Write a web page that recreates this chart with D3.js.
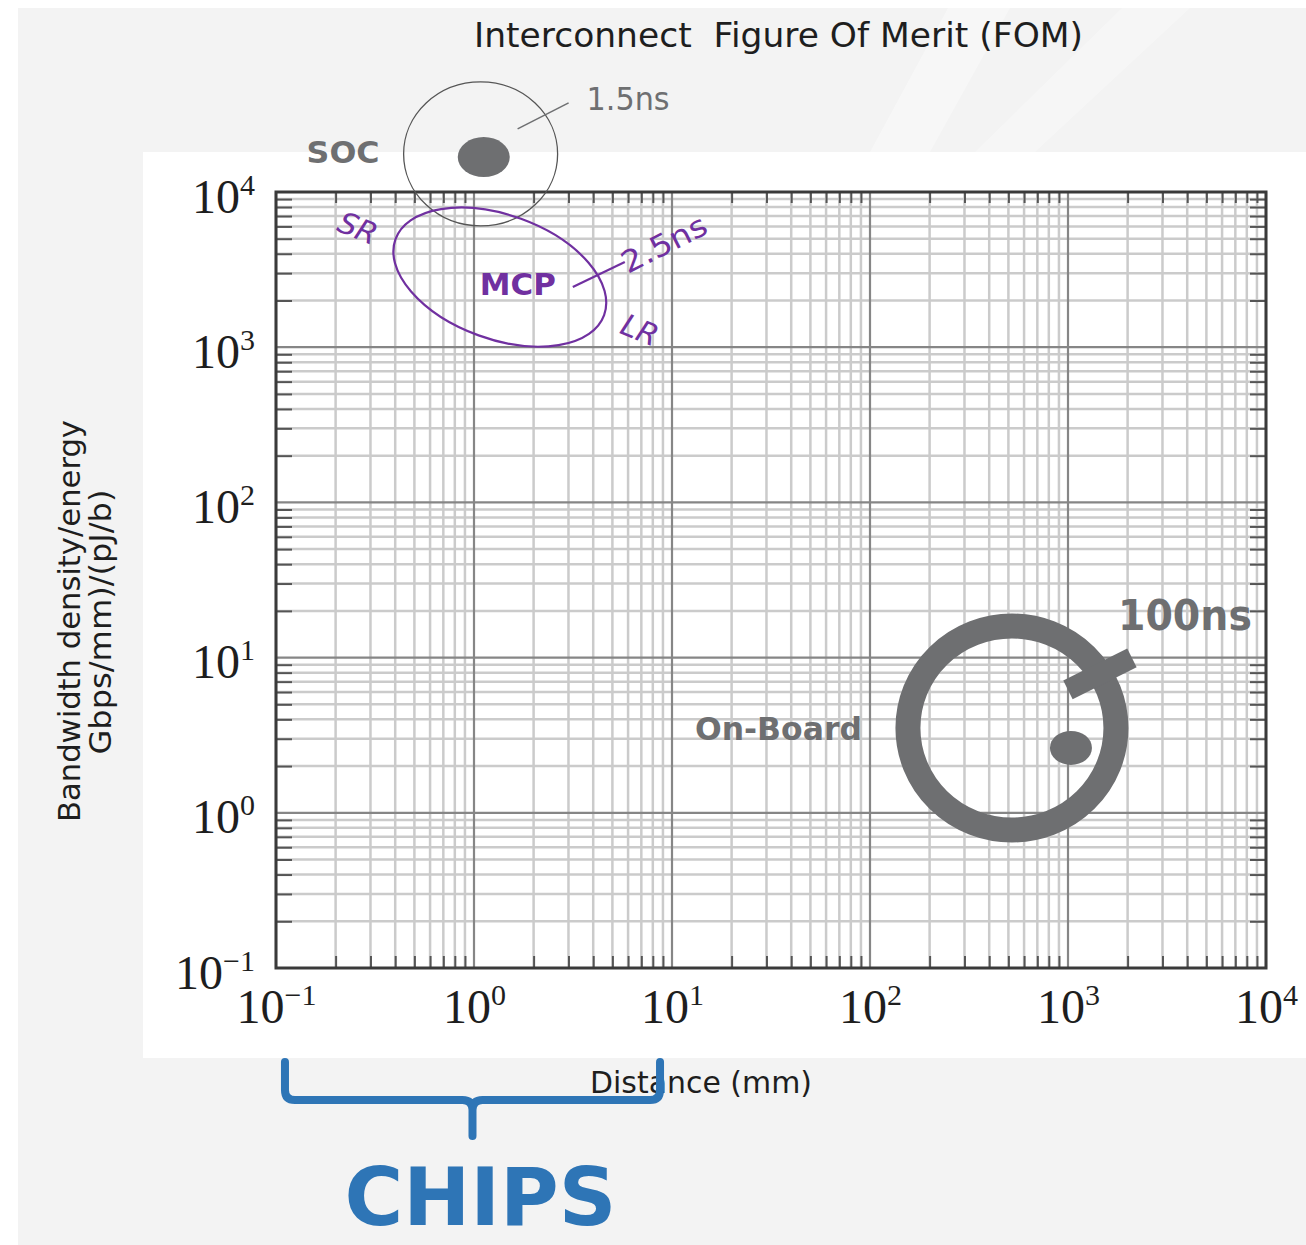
<!DOCTYPE html>
<html lang="en">
<head>
<meta charset="UTF-8">
<title>Interconnect FOM</title>
<script src="https://cdn.jsdelivr.net/npm/d3@7"></script>
<style>
  body { margin: 0; background: #fff; }
  text { font-family: 'DejaVu Sans', Verdana, sans-serif; }
  .tick text { font-family: 'Liberation Serif', 'DejaVu Serif', serif; fill: #1e1e1e; }
</style>
</head>
<body>
<script>
const width  = 1306;
const height = 1245;

// decades on both log axes
const xDecades = [0.1, 1, 10, 100, 1000, 10000];
const yDecades = [0.1, 1, 10, 100, 1000, 10000];
const decadeExponents = ["\u22121", "0", "1", "2", "3", "4"];

// interconnect regions: centre distance (mm) and FOM
const regionNames    = ["SOC", "MCP", "On-Board"];
const regionDistance = [1.08, 1.35, 521];
const regionFom      = [17600, 2830, 3.52];
const latencyLabels  = ["1.5ns", "2.5ns", "100ns"];
// filled dots inside SOC and On-Board circles
const dotDistance = [1.12, 1035];
const dotFom      = [16800, 2.62];
const reachLabels = ["SR", "LR"];
// span covered by the CHIPS brace (mm)
const chipRange = [0.111, 8.7];

const grey   = "#6e6f71";
const purple = "#7030a0";
const blue   = "#2e75b6";

const svg = d3.select("body").append("svg")
    .attr("width", width).attr("height", height);

// slide background
svg.append("rect").attr("x", 18).attr("y", 8)
    .attr("width", width - 18).attr("height", height - 8).attr("fill", "#f3f3f3");
svg.append("path").attr("d", "M870,152 L948,8 L1010,8 L930,152 Z")
    .attr("fill", "#fff").attr("opacity", 0.35);
svg.append("path").attr("d", "M975,152 L1122,8 L1190,8 L1035,152 Z")
    .attr("fill", "#fff").attr("opacity", 0.3);
svg.append("rect").attr("x", 143).attr("y", 152)
    .attr("width", width - 143).attr("height", 906).attr("fill", "#fff");

const x = d3.scaleLog().domain([0.1, 1e4]).range([276, 1266]);
const y = d3.scaleLog().domain([0.1, 1e4]).range([968, 192]);

const isMajor = v => Math.abs(Math.log10(v) - Math.round(Math.log10(v))) < 1e-9;
const minorX = x.ticks().filter(v => !isMajor(v));
const minorY = y.ticks().filter(v => !isMajor(v));

// grid
const grid = svg.append("g");
grid.selectAll(".gx").data(minorX).join("line").attr("class", "gx")
    .attr("x1", d => x(d)).attr("x2", d => x(d)).attr("y1", 192).attr("y2", 968)
    .attr("stroke", "#cbcbcb").attr("stroke-width", 2.5);
grid.selectAll(".gy").data(minorY).join("line").attr("class", "gy")
    .attr("y1", d => y(d)).attr("y2", d => y(d)).attr("x1", 276).attr("x2", 1266)
    .attr("stroke", "#cbcbcb").attr("stroke-width", 2.5);
grid.selectAll(".mx").data(xDecades).join("line").attr("class", "mx")
    .attr("x1", d => x(d)).attr("x2", d => x(d)).attr("y1", 192).attr("y2", 968)
    .attr("stroke", "#868686").attr("stroke-width", 2.2);
grid.selectAll(".my").data(yDecades).join("line").attr("class", "my")
    .attr("y1", d => y(d)).attr("y2", d => y(d)).attr("x1", 276).attr("x2", 1266)
    .attr("stroke", "#868686").attr("stroke-width", 2.2);

// inner minor ticks on all four sides
const tickStyle = g => {
    g.select(".domain").remove();
    g.selectAll(".tick line").attr("stroke", "#555").attr("stroke-width", 2);
};
svg.append("g").attr("transform", "translate(0,968)")
    .call(d3.axisBottom(x).tickValues(minorX).tickSize(-12).tickFormat(""))
    .call(tickStyle);
svg.append("g").attr("transform", "translate(0,192)")
    .call(d3.axisTop(x).tickValues(minorX).tickSize(-11).tickFormat(""))
    .call(tickStyle);
svg.append("g").attr("transform", "translate(276,0)")
    .call(d3.axisLeft(y).tickValues(minorY).tickSize(-16).tickFormat(""))
    .call(tickStyle);
svg.append("g").attr("transform", "translate(1266,0)")
    .call(d3.axisRight(y).tickValues(minorY).tickSize(-16).tickFormat(""))
    .call(tickStyle);

// decade labels as 10^n
const powerLabel = (sel) => {
    sel.selectAll(".tick text").each(function(d, i) {
        const t = d3.select(this).text(null).attr("font-size", 48).attr("dy", null);
        t.append("tspan").text("10");
        t.append("tspan").attr("dy", -18).attr("font-size", 30).text(decadeExponents[i]);
    });
};
svg.append("g").attr("transform", "translate(0,968)")
    .call(d3.axisBottom(x).tickValues(xDecades).tickSize(0).tickFormat(d => d))
    .call(g => g.select(".domain").remove())
    .call(powerLabel)
    .call(g => g.selectAll(".tick text").attr("y", 55));
svg.append("g").attr("transform", "translate(276,0)")
    .call(d3.axisLeft(y).tickValues(yDecades).tickSize(0).tickFormat(d => d))
    .call(g => g.select(".domain").remove())
    .call(powerLabel)
    .call(g => g.selectAll(".tick text").attr("x", -21).attr("y", 20));

// frame
svg.append("rect").attr("x", 276).attr("y", 192).attr("width", 990).attr("height", 776)
    .attr("fill", "none").attr("stroke", "#3a3a3a").attr("stroke-width", 3);

// titles
svg.append("text").attr("x", 474).attr("y", 47).attr("font-size", 33).attr("fill", "#1e1e1e")
    .style("white-space", "pre")
    .attr("textLength", 609).attr("lengthAdjust", "spacingAndGlyphs")
    .text("Interconnect  Figure Of Merit (FOM)");
svg.append("text").attr("transform", "translate(80,621) rotate(-90)")
    .attr("text-anchor", "middle").attr("font-size", 30).attr("fill", "#1e1e1e")
    .attr("textLength", 402).attr("lengthAdjust", "spacingAndGlyphs")
    .text("Bandwidth density/energy");
svg.append("text").attr("transform", "translate(111,622) rotate(-90)")
    .attr("text-anchor", "middle").attr("font-size", 30).attr("fill", "#1e1e1e")
    .attr("textLength", 265).attr("lengthAdjust", "spacingAndGlyphs")
    .text("Gbps/mm)/(pJ/b)");
svg.append("text").attr("x", 590).attr("y", 1093).attr("font-size", 30).attr("fill", "#1e1e1e")
    .attr("textLength", 222).attr("lengthAdjust", "spacingAndGlyphs")
    .text("Distance (mm)");

// region annotations
const c = regionNames.map((n, i) => [x(regionDistance[i]), y(regionFom[i])]);
const dots = dotDistance.map((d, i) => [x(d), y(dotFom[i])]);
const ann = svg.append("g");

// SOC
ann.append("ellipse").attr("cx", c[0][0]).attr("cy", c[0][1]).attr("rx", 77).attr("ry", 72)
    .attr("fill", "none").attr("stroke", "#555").attr("stroke-width", 1.3);
ann.append("ellipse").attr("cx", dots[0][0]).attr("cy", dots[0][1]).attr("rx", 26).attr("ry", 20)
    .attr("fill", grey);
ann.append("line").attr("x1", c[0][0] + 37).attr("y1", c[0][1] - 25)
    .attr("x2", c[0][0] + 88).attr("y2", c[0][1] - 51).attr("stroke", grey).attr("stroke-width", 1.5);
ann.append("text").attr("x", c[0][0] - 101).attr("y", c[0][1] + 9).attr("text-anchor", "end")
    .attr("font-size", 31).attr("font-weight", "bold").attr("fill", grey)
    .attr("textLength", 73).attr("lengthAdjust", "spacingAndGlyphs").text(regionNames[0]);
ann.append("text").attr("x", c[0][0] + 106).attr("y", c[0][1] - 44)
    .attr("font-size", 32).attr("fill", grey)
    .attr("textLength", 83).attr("lengthAdjust", "spacingAndGlyphs").text(latencyLabels[0]);

// MCP
ann.append("ellipse").attr("cx", c[1][0]).attr("cy", c[1][1]).attr("rx", 111).attr("ry", 62)
    .attr("transform", `rotate(20,${c[1][0]},${c[1][1]})`)
    .attr("fill", "none").attr("stroke", purple).attr("stroke-width", 2.2);
ann.append("line").attr("x1", c[1][0] + 73).attr("y1", c[1][1] + 10)
    .attr("x2", c[1][0] + 125).attr("y2", c[1][1] - 15).attr("stroke", purple).attr("stroke-width", 2.2);
ann.append("text").attr("x", c[1][0] - 20).attr("y", c[1][1] + 18)
    .attr("font-size", 31).attr("font-weight", "bold").attr("fill", purple)
    .attr("textLength", 76).attr("lengthAdjust", "spacingAndGlyphs").text(regionNames[1]);
ann.append("text").attr("transform", `translate(${c[1][0] + 128},${c[1][1] - 3}) rotate(-27)`)
    .attr("font-size", 30).attr("fill", purple)
    .attr("textLength", 92).attr("lengthAdjust", "spacingAndGlyphs").text(latencyLabels[1]);
ann.append("text").attr("transform", `translate(${c[1][0] - 142},${c[1][1] - 49}) rotate(22)`)
    .attr("text-anchor", "middle").attr("dy", "0.35em")
    .attr("font-size", 30).attr("font-style", "italic").attr("fill", purple).text(reachLabels[0]);
ann.append("text").attr("transform", `translate(${c[1][0] + 140},${c[1][1] + 53}) rotate(22)`)
    .attr("text-anchor", "middle").attr("dy", "0.35em")
    .attr("font-size", 30).attr("font-style", "italic").attr("fill", purple).text(reachLabels[1]);

// On-Board
ann.append("ellipse").attr("cx", c[2][0]).attr("cy", c[2][1]).attr("rx", 104).attr("ry", 102)
    .attr("fill", "none").attr("stroke", grey).attr("stroke-width", 25);
ann.append("line").attr("x1", c[2][0] + 56).attr("y1", c[2][1] - 38)
    .attr("x2", c[2][0] + 120).attr("y2", c[2][1] - 70).attr("stroke", grey).attr("stroke-width", 21);
ann.append("ellipse").attr("cx", dots[1][0]).attr("cy", dots[1][1]).attr("rx", 21).attr("ry", 17)
    .attr("fill", grey);
ann.append("text").attr("x", c[2][0] - 150).attr("y", c[2][1] + 12).attr("text-anchor", "end")
    .attr("font-size", 32).attr("font-weight", "bold").attr("fill", grey)
    .attr("textLength", 167).attr("lengthAdjust", "spacingAndGlyphs").text(regionNames[2]);
ann.append("text").attr("x", c[2][0] + 106).attr("y", c[2][1] - 98)
    .attr("font-size", 43).attr("font-weight", "bold").attr("fill", grey)
    .attr("textLength", 134).attr("lengthAdjust", "spacingAndGlyphs").text(latencyLabels[2]);

// CHIPS brace under the axis
const bx0 = x(chipRange[0]), bx1 = x(chipRange[1]);
const bm = x(Math.sqrt(chipRange[0] * chipRange[1]));
const by = 1100;
svg.append("path")
    .attr("d", `M${bx0},1062 V${by - 10} Q${bx0},${by} ${bx0 + 10},${by} H${bm - 10} Q${bm},${by} ${bm},${by + 10} V1136`
        + ` M${bm},${by + 10} Q${bm},${by} ${bm + 10},${by} H${bx1 - 10} Q${bx1},${by} ${bx1},${by - 10} V1062`)
    .attr("fill", "none").attr("stroke", blue).attr("stroke-width", 8).attr("stroke-linecap", "round");
svg.append("text").attr("x", bm + 8).attr("y", 1225).attr("text-anchor", "middle")
    .attr("font-size", 80).attr("font-weight", "bold").attr("fill", blue)
    .attr("textLength", 272).attr("lengthAdjust", "spacingAndGlyphs").text("CHIPS");
</script>
</body>
</html>
